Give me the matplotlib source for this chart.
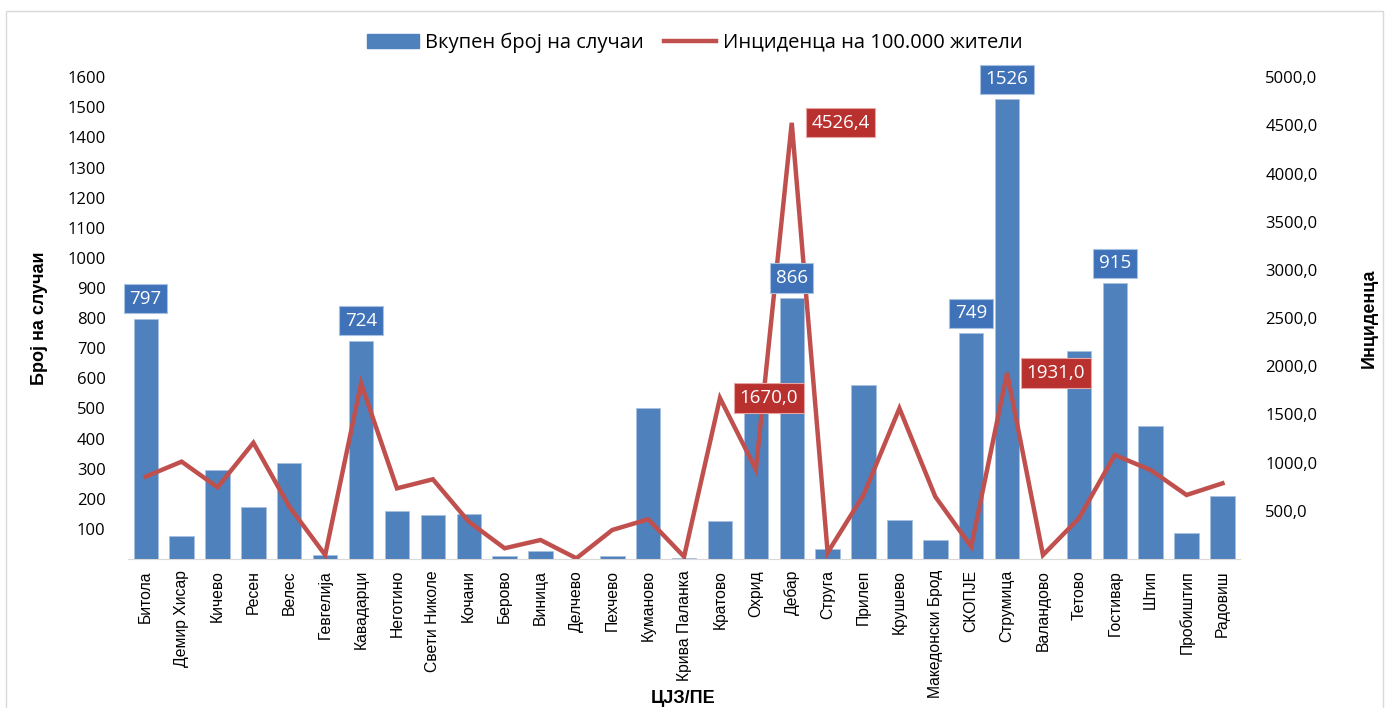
import matplotlib.pyplot as plt
import matplotlib.patches as mpatches
from matplotlib.lines import Line2D

regions = ["Битола", "Демир Хисар", "Кичево", "Ресен", "Велес", "Гевгелија",
           "Кавадарци", "Неготино", "Свети Николе", "Кочани", "Берово", "Виница",
           "Делчево", "Пехчево", "Куманово", "Крива Паланка", "Кратово", "Охрид",
           "Дебар", "Струга", "Прилеп", "Крушево", "Македонски Брод", "СКОПЈЕ",
           "Струмица", "Валандово", "Тетово", "Гостивар", "Штип", "Пробиштип",
           "Радовиш"]
cases = [797, 75, 295, 174, 320, 13, 724, 159, 145, 148, 10, 28, 1, 10, 500, 4,
         125, 510, 866, 33, 578, 131, 64, 749, 1526, 1, 690, 915, 440, 87, 210]
incidence = [855, 1010, 744, 1206, 543, 41, 1822, 733, 827, 387, 111, 197, 7,
             301, 412, 24, 1670.0, 930, 4526.4, 66, 664, 1563, 646, 128, 1931.0,
             41, 422, 1079, 923, 664, 785]
bar_labels = ["Битола", "Кавадарци", "Дебар", "СКОПЈЕ", "Струмица", "Гостивар"]
line_labels = ["Кратово", "Дебар", "Струмица"]

blue = "#4F81BD"
red = "#C0504D"

fig = plt.figure(figsize=(13.89, 7.08), dpi=100)
ax = fig.add_axes([0.092, 0.2105, 0.801, 0.6805])
ax2 = ax.twinx()

x = list(range(len(regions)))
ax.bar(x, cases, width=0.68, color=blue, edgecolor="#A9C1E0", linewidth=0.6, zorder=2)
ax2.plot(x, incidence, color=red, linewidth=3.2, solid_joinstyle="miter", zorder=3)

ax.set_xlim(-0.5, len(regions) - 0.5)
ax.set_ylim(0, 1600)
ax2.set_ylim(0, 5000)
ax.set_yticks(range(100, 1700, 100))
ax.set_yticklabels([str(v) for v in range(100, 1700, 100)], fontsize=12,
                   family="Open Sans")
ax2.set_yticks(range(500, 5500, 500))
ax2.set_yticklabels([f"{v},0" for v in range(500, 5500, 500)], fontsize=12,
                    family="Open Sans")
ax.set_xticks(x)
ax.set_xticklabels(regions, rotation=90, fontsize=11.3, family="Liberation Sans")
ax.tick_params(axis="both", length=0)
ax.tick_params(axis="y", pad=16)
ax2.tick_params(axis="y", length=0, pad=18)
ax.tick_params(axis="x", pad=8)

for a in (ax, ax2):
    for s in ("top", "left", "right"):
        a.spines[s].set_visible(False)
    a.spines["bottom"].set_color("#D9D9D9")
ax2.spines["bottom"].set_visible(False)

ax.set_zorder(ax2.get_zorder() - 1)
ax2.patch.set_visible(False)

ax.set_ylabel("Број на случаи", fontsize=13, fontweight="bold",
              family="Liberation Sans", labelpad=14)
ax2.set_ylabel("Инциденца", fontsize=13, fontweight="bold",
               family="Liberation Sans", labelpad=31)
fig.text(0.492, 0.002, "ЦЈЗ/ПЕ", fontsize=13, fontweight="bold",
         family="Liberation Sans", ha="center", va="bottom")

for name in bar_labels:
    i = regions.index(name)
    ax2.annotate(str(cases[i]), xy=(i, cases[i] * 5000 / 1600), xytext=(0, 8),
                 textcoords="offset points", ha="center", va="bottom",
                 fontsize=13.5, color="white", family="Open Sans", zorder=5,
                 bbox=dict(boxstyle="square,pad=0.3", fc="#3F72B8", ec="#A9C1E0",
                           lw=0.8))
for name in line_labels:
    i = regions.index(name)
    ax2.annotate(f"{incidence[i]:.1f}".replace(".", ","), xy=(i, incidence[i]),
                 xytext=(14, 0), textcoords="offset points", ha="left",
                 va="center", fontsize=13.5, color="white", family="Open Sans",
                 zorder=5,
                 bbox=dict(boxstyle="square,pad=0.3", fc="#B8312F", ec="#E6A5A3",
                           lw=0.8))

handles = [mpatches.Patch(color=blue, label="Вкупен број на случаи"),
           Line2D([0], [0], color=red, lw=3.2, label="Инциденца на 100.000 жители")]
fig.legend(handles=handles, loc="center", bbox_to_anchor=(0.5, 0.94), ncol=2,
           frameon=False, prop={"family": "Open Sans", "size": 14.5},
           handlelength=2.6, columnspacing=1.0, handletextpad=0.3)

fig.patches.append(mpatches.Rectangle((0.004, -0.01), 0.992, 0.995,
                                      transform=fig.transFigure, fill=False,
                                      ec="#D9D9D9", lw=1))

fig.savefig("out.png", dpi=100)
